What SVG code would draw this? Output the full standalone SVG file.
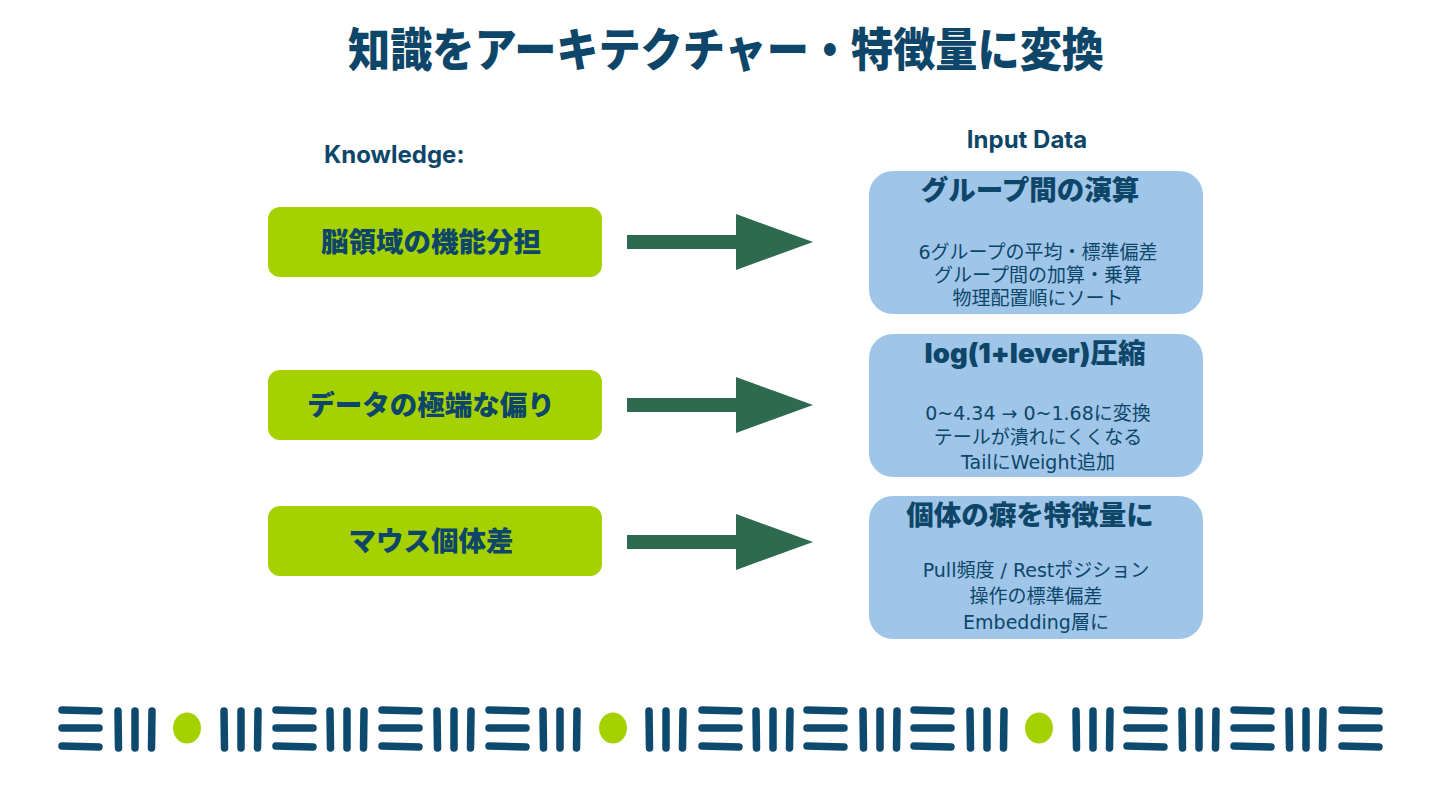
<svg xmlns="http://www.w3.org/2000/svg" xmlns:xlink="http://www.w3.org/1999/xlink" width="1440" height="810" viewBox="0 0 1440 810">
<style>
.title{font-family:"Noto Sans CJK JP","Noto Sans",sans-serif;font-weight:900;fill:#0D4668}
.hdr{font-family:Inter,"Noto Sans",sans-serif;font-weight:700;font-size:24px;fill:#0D4668}
.gbox{fill:#A6D100}
.bbox{fill:#9FC5E8}
.gtxt{font-family:"Noto Sans CJK JP",sans-serif;font-weight:900;font-size:27.5px;fill:#0D4668;text-anchor:middle}
.btitle{font-family:Inter,"Noto Sans CJK JP",sans-serif;font-weight:900;font-size:27.5px;fill:#0D4668;text-anchor:middle}
.body{font-family:"DejaVu Sans","Noto Sans CJK JP",sans-serif;font-size:19px;fill:#0D4668;text-anchor:middle}
.arrow{fill:#2D6A4F}
.bar{stroke:#0D4A6E;stroke-width:7.5;stroke-linecap:round;fill:none}
.dot{fill:#A6D100}
</style>
<defs>
<g id="E">
<line class="bar" x1="4" y1="710" x2="41" y2="711"/>
<line class="bar" x1="4" y1="728" x2="41" y2="728"/>
<line class="bar" x1="4" y1="746" x2="41" y2="747"/>
</g>
<g id="I">
<line class="bar" x1="0" y1="711" x2="0.5" y2="748"/>
<line class="bar" x1="17" y1="711" x2="17" y2="748"/>
<line class="bar" x1="34" y1="711" x2="33.5" y2="748"/>
</g>
</defs>
<rect width="1440" height="810" fill="#FFFFFF"/>
<text class="title" x="726" y="66" font-size="46" text-anchor="middle" textLength="756" lengthAdjust="spacingAndGlyphs">知識をアーキテクチャー・特徴量に変換</text>
<text class="hdr" x="324" y="163">Knowledge:</text>
<text class="hdr" x="1027" y="148" text-anchor="middle">Input Data</text>

<g id="k1">
<rect class="gbox" x="268" y="207" width="334" height="70" rx="12"/>
<text class="gtxt" x="431" y="252">脳領域の機能分担</text>
</g>
<g id="k2">
<rect class="gbox" x="268" y="370" width="334" height="70" rx="12"/>
<text class="gtxt" x="431" y="415">データの極端な偏り</text>
</g>
<g id="k3">
<rect class="gbox" x="268" y="506" width="334" height="70" rx="12"/>
<text class="gtxt" x="431" y="551">マウス個体差</text>
</g>

<g id="d1">
<rect class="bbox" x="869" y="171" width="334" height="143" rx="24"/>
<text class="btitle" x="1030" y="200">グループ間の演算</text>
<text class="body" x="1038" y="259">6グループの平均・標準偏差</text>
<text class="body" x="1038" y="282">グループ間の加算・乗算</text>
<text class="body" x="1038" y="305">物理配置順にソート</text>
</g>
<g id="d2">
<rect class="bbox" x="869" y="334" width="334" height="143" rx="24"/>
<text class="btitle" x="1035" y="363">log(1+lever)圧縮</text>
<text class="body" x="1038" y="420">0~4.34 → 0~1.68に変換</text>
<text class="body" x="1038" y="444">テールが潰れにくくなる</text>
<text class="body" x="1038" y="469">TailにWeight追加</text>
</g>
<g id="d3">
<rect class="bbox" x="869" y="496" width="334" height="143" rx="24"/>
<text class="btitle" x="1030" y="525">個体の癖を特徴量に</text>
<text class="body" x="1036" y="577">Pull頻度 / Restポジション</text>
<text class="body" x="1036" y="603">操作の標準偏差</text>
<text class="body" x="1036" y="629">Embedding層に</text>
</g>

<g id="connectors">
<polygon class="arrow" points="627,235 736,235 736,214 813,242 736,270 736,249 627,249"/>
<polygon class="arrow" points="627,398 736,398 736,377 813,405 736,433 736,412 627,412"/>
<polygon class="arrow" points="627,535 736,535 736,514 813,542 736,570 736,549 627,549"/>
</g>

<g id="pattern">
<use xlink:href="#E" x="58"/>
<use xlink:href="#E" x="272"/>
<use xlink:href="#E" x="378"/>
<use xlink:href="#E" x="485"/>
<use xlink:href="#E" x="698"/>
<use xlink:href="#E" x="803"/>
<use xlink:href="#E" x="910"/>
<use xlink:href="#E" x="1123"/>
<use xlink:href="#E" x="1230"/>
<use xlink:href="#E" x="1338"/>
<use xlink:href="#I" x="118"/>
<use xlink:href="#I" x="224"/>
<use xlink:href="#I" x="330"/>
<use xlink:href="#I" x="437"/>
<use xlink:href="#I" x="543"/>
<use xlink:href="#I" x="649"/>
<use xlink:href="#I" x="756"/>
<use xlink:href="#I" x="863"/>
<use xlink:href="#I" x="970"/>
<use xlink:href="#I" x="1076"/>
<use xlink:href="#I" x="1182"/>
<use xlink:href="#I" x="1289"/>
<ellipse class="dot" cx="187" cy="728" rx="14" ry="15.5"/>
<ellipse class="dot" cx="613" cy="728" rx="14" ry="15.5"/>
<ellipse class="dot" cx="1039" cy="728" rx="14" ry="15.5"/>
</g>
</svg>
